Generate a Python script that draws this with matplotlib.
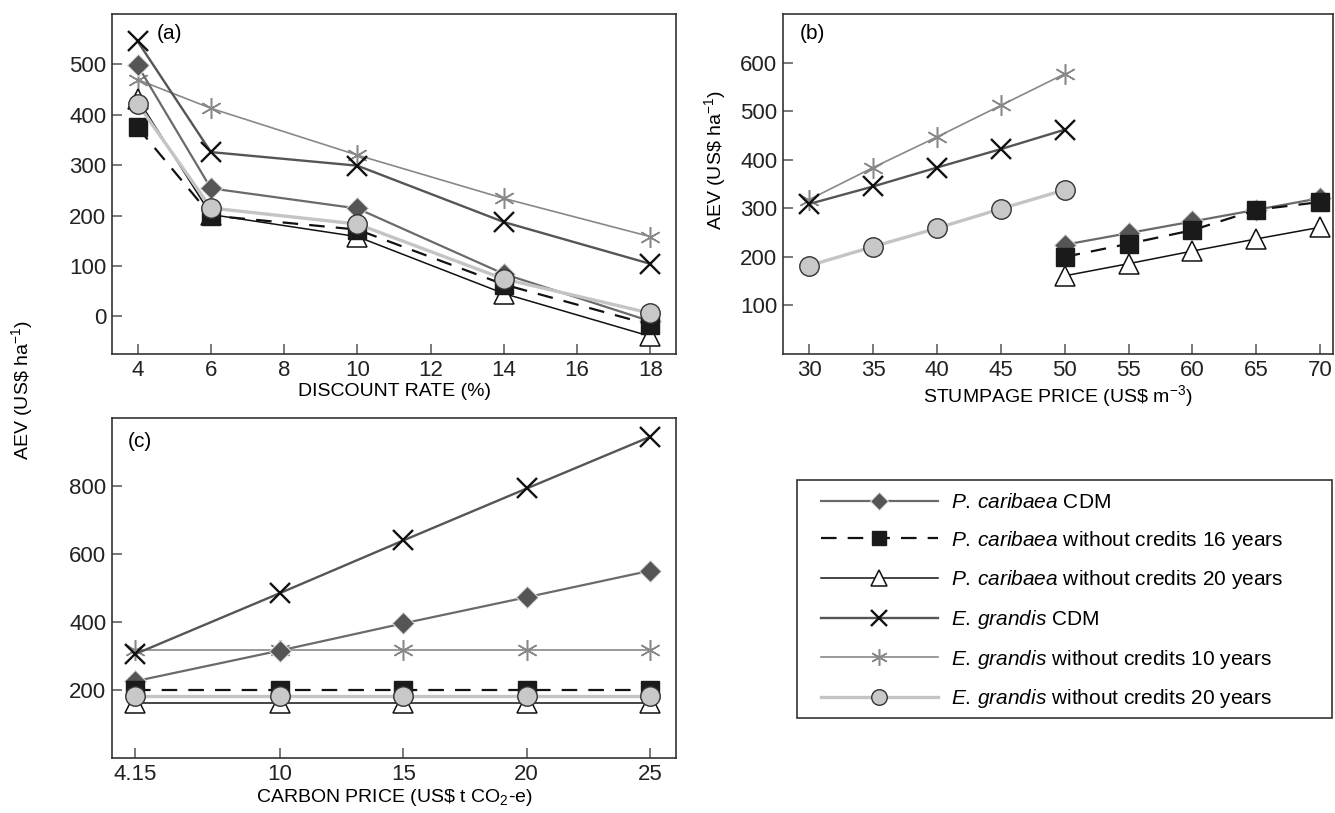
import matplotlib
matplotlib.use("Agg")
import matplotlib.pyplot as plt
from matplotlib.lines import Line2D
from matplotlib.patches import Rectangle

plt.rcParams.update({
    "font.family": "Liberation Sans",
    "mathtext.fontset": "custom",
    "mathtext.rm": "Liberation Sans",
    "mathtext.it": "Liberation Sans:italic",
    "xtick.labelsize": 16,
    "ytick.labelsize": 16,
    "axes.labelsize": 14,
    "axes.edgecolor": "#333333",
    "axes.linewidth": 1.2,
    "xtick.direction": "in",
    "ytick.direction": "in",
    "xtick.major.size": 7,
    "ytick.major.size": 7,
    "xtick.major.width": 1.1,
    "ytick.major.width": 1.1,
    "xtick.color": "#555555",
    "ytick.color": "#555555",
    "xtick.labelcolor": "#222222",
    "ytick.labelcolor": "#222222",
})

# ---- data -----------------------------------------------------------------
# (a) discount rate (%)
rate = [4, 6, 10, 14, 18]
a_pc_cdm = [498, 254, 214, 84, -10]
a_pc_16 = [375, 200, 172, 63, -17]
a_pc_20 = [432, 202, 158, 45, -40]
a_eg_cdm = [546, 326, 299, 187, 104]
a_eg_10 = [470, 413, 320, 234, 158]
a_eg_20 = [422, 215, 183, 74, 6]

# (b) stumpage price (US$ m-3)
price_eg = [30, 35, 40, 45, 50]
price_pc = [50, 55, 60, 65, 70]
b_pc_cdm = [225, 249, 273, 297, 321]
b_pc_16 = [200, 227, 255, 297, 313]
b_pc_20 = [161, 186, 212, 237, 261]
b_eg_cdm = [309, 345, 384, 422, 462]
b_eg_10 = [318, 384, 447, 512, 577]
b_eg_20 = [182, 221, 259, 299, 338]

# (c) carbon price (US$ t CO2-e)
carbon = [4.15, 10, 15, 20, 25]
c_pc_cdm = [226, 316, 396, 473, 551]
c_pc_16 = [200, 200, 200, 200, 200]
c_pc_20 = [161, 161, 161, 161, 161]
c_eg_cdm = [306, 485, 640, 793, 945]
c_eg_10 = [317, 317, 317, 317, 317]
c_eg_20 = [181, 181, 181, 181, 181]

labels = [
    r"$\it{P.\,caribaea}$ CDM",
    r"$\it{P.\,caribaea}$ without credits 16 years",
    r"$\it{P.\,caribaea}$ without credits 20 years",
    r"$\it{E.\,grandis}$ CDM",
    r"$\it{E.\,grandis}$ without credits 10 years",
    r"$\it{E.\,grandis}$ without credits 20 years",
]

# ---- styles ---------------------------------------------------------------
S_PC_CDM = dict(color="#6a6a6a", lw=1.6, ls="-", marker="D", ms=11,
                mfc="#555555", mec="#dddddd", mew=0.8)
S_PC_16 = dict(color="#111111", lw=1.6, ls=(0, (7, 5)), marker="s", ms=13,
               mfc="#1a1a1a", mec="#1a1a1a", mew=1.0)
S_PC_20 = dict(color="#111111", lw=1.1, ls="-", marker="^", ms=14,
               mfc="white", mec="#111111", mew=1.1)
S_EG_CDM = dict(color="#555555", lw=1.7, ls="-", marker="x", ms=15,
                mfc="none", mec="#111111", mew=1.7)
S_EG_10 = dict(color="#888888", lw=1.2, ls="-", marker=(6, 2, 0), ms=15,
               mfc="none", mec="#888888", mew=1.1)
S_EG_20 = dict(color="#c4c4c4", lw=2.4, ls="-", marker="o", ms=14,
               mfc="#c8c8c8", mec="#333333", mew=1.0)
STYLES = [S_PC_CDM, S_PC_16, S_PC_20, S_EG_CDM, S_EG_10, S_EG_20]

W, H = 1335, 813
fig = plt.figure(figsize=(W / 100, H / 100), dpi=100)
ax_a = fig.add_axes([0.0839, 0.5646, 0.4225, 0.418])
ax_b = fig.add_axes([0.5865, 0.5646, 0.412, 0.418])
ax_c = fig.add_axes([0.0839, 0.0677, 0.4225, 0.418])


def draw(ax, xs_list, ys_list):
    # back-to-front order similar to the reference
    for i in [4, 3, 0, 2, 1, 5]:
        ax.plot(xs_list[i], ys_list[i], **STYLES[i])


draw(ax_a, [rate] * 6, [a_pc_cdm, a_pc_16, a_pc_20, a_eg_cdm, a_eg_10, a_eg_20])
ax_a.set_xlim(3.3, 18.7)
ax_a.set_ylim(-75, 600)
ax_a.set_xticks([4, 6, 8, 10, 12, 14, 16, 18])
ax_a.set_yticks([0, 100, 200, 300, 400, 500])
ax_a.set_xlabel("DISCOUNT RATE (%)", labelpad=2)
ax_a.text(0.08, 0.97, "(a)", transform=ax_a.transAxes, fontsize=15,
          va="top", ha="left")

draw(ax_b, [price_pc, price_pc, price_pc, price_eg, price_eg, price_eg],
     [b_pc_cdm, b_pc_16, b_pc_20, b_eg_cdm, b_eg_10, b_eg_20])
ax_b.set_xlim(27.95, 71.0)
ax_b.set_ylim(0, 700)
ax_b.set_xticks([30, 35, 40, 45, 50, 55, 60, 65, 70])
ax_b.set_yticks([100, 200, 300, 400, 500, 600])
ax_b.set_xlabel("STUMPAGE PRICE (US\\$ m$^{-3}$)", labelpad=2)
ax_b.set_ylabel("AEV (US\\$ ha$^{-1}$)")
ax_b.yaxis.set_label_coords(-0.10, 0.57)
ax_b.text(0.03, 0.97, "(b)", transform=ax_b.transAxes, fontsize=15,
          va="top", ha="left")

draw(ax_c, [carbon] * 6, [c_pc_cdm, c_pc_16, c_pc_20, c_eg_cdm, c_eg_10, c_eg_20])
ax_c.set_xlim(3.2, 26.05)
ax_c.set_ylim(0, 1000)
ax_c.set_xticks(carbon)
ax_c.set_xticklabels(["4.15", "10", "15", "20", "25"])
ax_c.set_yticks([200, 400, 600, 800])
ax_c.set_xlabel("CARBON PRICE (US\\$ t CO$_{2}$-e)", labelpad=2)
ax_c.text(0.028, 0.96, "(c)", transform=ax_c.transAxes, fontsize=15,
          va="top", ha="left")

for ax in (ax_a, ax_b, ax_c):
    ax.tick_params(top=False, right=False, pad=4)

fig.text(22 / W, 1 - 390 / H, "AEV (US\\$ ha$^{-1}$)", rotation=90,
         fontsize=14, ha="center", va="center")

# legend: frameless, with a separately drawn box
handles = [Line2D([], [], **s) for s in STYLES]
fig.legend(handles, labels, loc="upper left",
           bbox_to_anchor=(821 / W, 1 - 493 / H),
           borderaxespad=0, borderpad=0, handlelength=5.6,
           labelspacing=0.8, handletextpad=0.65, fontsize=15,
           frameon=False, markerscale=0.8)
fig.add_artist(Rectangle((797 / W, 1 - 718 / H), (1332 - 797) / W,
                         (718 - 480) / H, transform=fig.transFigure,
                         fill=False, edgecolor="#333333", lw=1.2))

fig.savefig("out.png", dpi=100)
